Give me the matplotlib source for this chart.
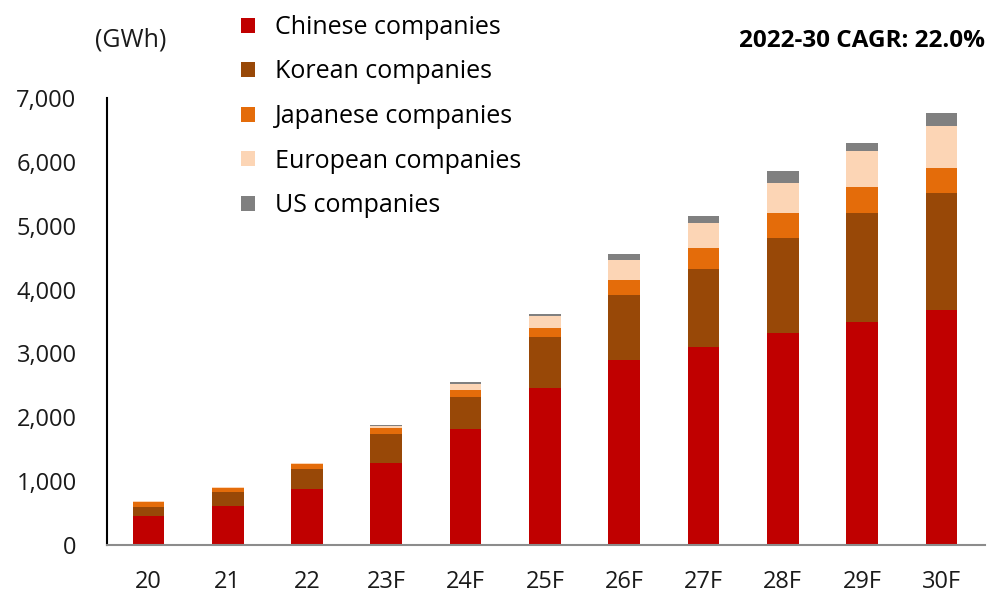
import numpy as np
import matplotlib.pyplot as plt

years = ["20", "21", "22", "23F", "24F", "25F", "26F", "27F", "28F", "29F", "30F"]
chinese = [460, 620, 885, 1285, 1820, 2465, 2895, 3095, 3320, 3500, 3685]
korean = [140, 205, 300, 450, 500, 795, 1025, 1230, 1495, 1700, 1820]
japanese = [80, 75, 85, 95, 115, 135, 225, 325, 390, 410, 405]
european = [10, 10, 10, 30, 90, 185, 325, 395, 460, 565, 645]
us = [0, 0, 0, 20, 25, 45, 85, 100, 185, 125, 205]

series = [
    ("Chinese companies", chinese, "#C00000"),
    ("Korean companies", korean, "#984807"),
    ("Japanese companies", japanese, "#E46C0A"),
    ("European companies", european, "#FCD5B5"),
    ("US companies", us, "#808080"),
]

plt.rcParams['font.family'] = ['Open Sans', 'DejaVu Sans']

fig = plt.figure(figsize=(9.92, 6.01), dpi=100)
ax = fig.add_axes([0.108, 0.093, 0.885, 0.744])

x = np.arange(len(years))
bottom = np.zeros(len(years))
handles = []
for name, vals, col in series:
    b = ax.bar(x, vals, width=0.4, bottom=bottom, color=col, label=name)
    handles.append(b)
    bottom += np.array(vals)

ax.set_xlim(-0.52, 10.55)
ax.set_ylim(0, 7000)
ax.set_yticks(range(0, 7001, 1000))
ax.set_yticklabels([f"{v:,}" for v in range(0, 7001, 1000)])
ax.set_xticks(x)
ax.set_xticklabels(years)
ax.tick_params(axis='both', length=0, labelsize=17, colors="#1a1a1a")
ax.tick_params(axis='x', pad=18)
ax.tick_params(axis='y', pad=22)
ax.spines['top'].set_visible(False)
ax.spines['right'].set_visible(False)
ax.spines['left'].set_color("black")
ax.spines['left'].set_linewidth(1.5)
ax.spines['bottom'].set_color("#8c8c8c")
ax.spines['bottom'].set_linewidth(1.5)

fig.text(0.096, 0.922, "(GWh)", fontsize=18, color="#1a1a1a")
fig.text(0.993, 0.922, "2022-30 CAGR: 22.0%", fontsize=17.5, fontweight='bold',
         ha='right', va='baseline')

fig.legend(handles=handles, loc='upper left', bbox_to_anchor=(0.228, 1.0),
           frameon=False, fontsize=18, handlelength=0.55, handleheight=0.55,
           handletextpad=0.8, labelspacing=0.78, borderaxespad=0.2)

fig.savefig("out.png", dpi=100)
